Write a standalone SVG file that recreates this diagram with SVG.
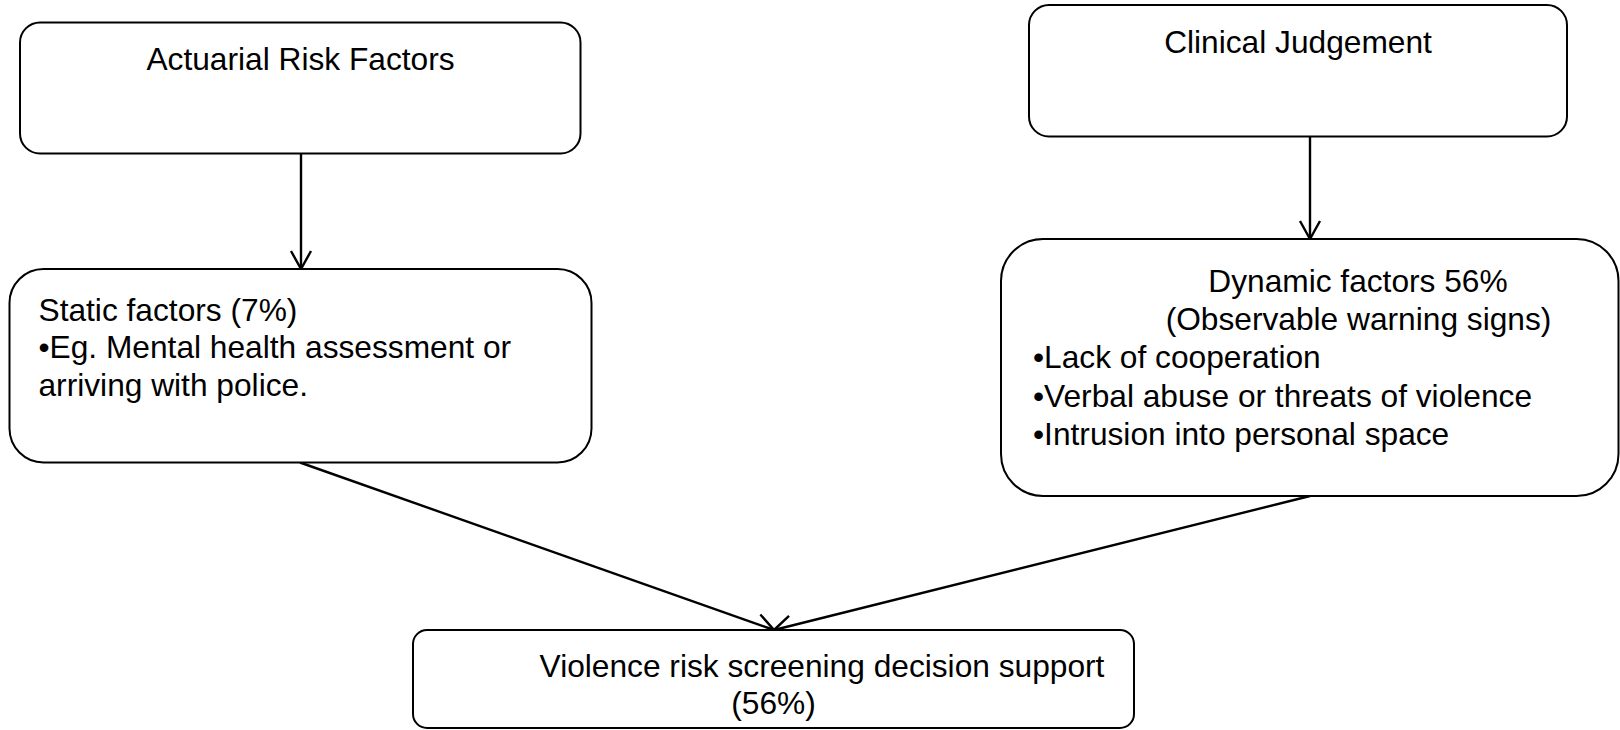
<svg xmlns="http://www.w3.org/2000/svg" width="1620" height="730" viewBox="0 0 1620 730">
<style>
.box{fill:#fff;stroke:#000;stroke-width:2}
.t{font-family:"Liberation Sans",Arial,sans-serif;font-size:31.7px;fill:#000}
.m{text-anchor:middle}
.c{fill:none;stroke:#000;stroke-width:2.4}
</style>
<defs>
<marker id="arr" markerUnits="userSpaceOnUse" markerWidth="22" markerHeight="24" viewBox="-20 -12 22 24" refX="0" refY="0" orient="auto">
<path d="M-18,-10 L0,0 L-18,10" fill="none" stroke="#000" stroke-width="2.4"/>
</marker>
</defs>
<rect width="1620" height="730" fill="#fff"/>
<g id="connectors">
<line class="c" x1="301" y1="154" x2="301" y2="269" marker-end="url(#arr)"/>
<line class="c" x1="1310" y1="137" x2="1310" y2="239" marker-end="url(#arr)"/>
<line class="c" x1="300" y1="462.5" x2="774" y2="630" marker-end="url(#arr)"/>
<line class="c" x1="1310" y1="496" x2="774" y2="630" marker-end="url(#arr)"/>
</g>
<g id="actuarial">
<rect class="box" x="20" y="22.5" width="560.5" height="131" rx="20" ry="20"/>
<text class="t m" x="300.5" y="70">Actuarial Risk Factors</text>
</g>
<g id="static">
<rect class="box" x="9.5" y="269" width="582" height="193.5" rx="34" ry="34"/>
<text class="t" x="38.5" y="320.7">Static factors (7%)</text>
<text class="t" x="38.5" y="358.3">•Eg. Mental health assessment or</text>
<text class="t" x="38.5" y="396">arriving with police.</text>
</g>
<g id="clinical">
<rect class="box" x="1029" y="5" width="538" height="131.5" rx="20" ry="20"/>
<text class="t m" x="1298" y="53.3">Clinical Judgement</text>
</g>
<g id="dynamic">
<rect class="box" x="1001" y="239" width="617.5" height="257" rx="42" ry="42"/>
<text class="t m" x="1358" y="291.7">Dynamic factors 56%</text>
<text class="t m" x="1358.5" y="329.5">(Observable warning signs)</text>
<text class="t" x="1033" y="367.7">•Lack of cooperation</text>
<text class="t" x="1033" y="406.5">•Verbal abuse or threats of violence</text>
<text class="t" x="1033" y="445">•Intrusion into personal space</text>
</g>
<g id="decision">
<rect class="box" x="413" y="630" width="721" height="98" rx="14" ry="14"/>
<text class="t m" x="822" y="676.7">Violence risk screening decision support</text>
<text class="t m" x="773.5" y="714">(56%)</text>
</g>
</svg>
